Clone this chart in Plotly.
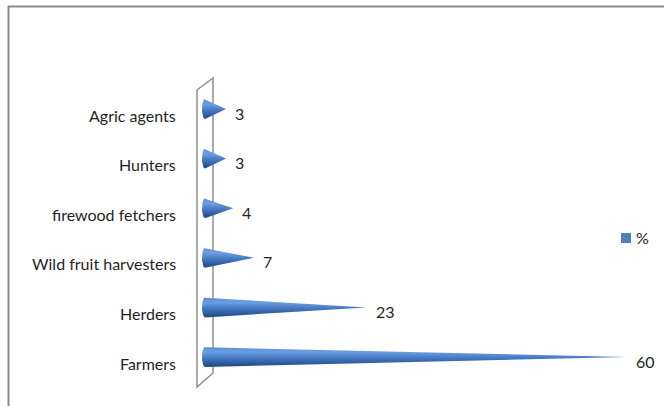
import numpy as np
import plotly.graph_objects as go

# Occupation groups (bottom to top) and their share in percent
categories = ["Farmers", "Herders", "Wild fruit harvesters",
              "firewood fetchers", "Hunters", "Agric agents"]
values = [60, 23, 7, 4, 3, 3]
series_name = "%"

W, H = 664, 406
# axis scale: pixels per x unit / y unit and where the origin sits
PX_X, X0 = 7.03, 205.0
PX_Y, Y0 = 49.6, 357.0

CONE_HALF = 10.0 / PX_Y     # half thickness of a cone (y units)
BASE_RX = 3.0 / PX_X        # horizontal radius of the elliptical base

FONT = "Lato"
FONT_SIZE = 16
TEXT_COLOR = "#1f1f1f"

cone_scale = [[0.0, "#21467d"], [0.2, "#2f5c9f"], [0.5, "#4a7ec6"],
              [0.75, "#6c9de1"], [0.9, "#6595dc"], [1.0, "#5282c8"]]

fig = go.Figure()

for i, (cat, v) in enumerate(zip(categories, values)):
    t = np.linspace(0, np.pi, 25)
    ex = -BASE_RX * np.sin(t)
    ey = i + CONE_HALF * np.cos(t)
    xs = np.concatenate([[v], ex, [v]])
    ys = np.concatenate([[i], ey, [i]])
    fig.add_trace(go.Scatter(
        x=xs, y=ys, mode="lines", fill="toself",
        line=dict(width=0, color="rgba(0,0,0,0)"),
        fillgradient=dict(type="vertical", colorscale=cone_scale),
        name=cat, showlegend=False, hoverinfo="skip",
    ))
    # value label at the tip
    fig.add_annotation(x=v, y=i, xref="x", yref="y", text=str(v),
                       showarrow=False, xanchor="left", yanchor="middle",
                       xshift=7, yshift=-4,
                       font=dict(family=FONT, size=FONT_SIZE, color=TEXT_COLOR))
    # category label on the left of the wall
    fig.add_annotation(x=178 / W, y=i, xref="paper", yref="y", text=cat,
                       showarrow=False, xanchor="right", yanchor="middle",
                       yshift=-6,
                       font=dict(family=FONT, size=FONT_SIZE, color=TEXT_COLOR))

shapes = []
# 3-D side wall of the category axis
fx, bx = (197 - X0) / PX_X, (213 - X0) / PX_X
shapes.append(dict(
    type="path", xref="x", yref="y", layer="below",
    path=(f"M {fx},{(Y0-387)/PX_Y} L {fx},{(Y0-90)/PX_Y} "
          f"L {bx},{(Y0-78)/PX_Y} L {bx},{(Y0-373)/PX_Y} Z"),
    line=dict(color="#8f8f8f", width=1.5), fillcolor="rgba(0,0,0,0)",
))
# chart border (top and left edges)
shapes.append(dict(type="line", xref="paper", yref="paper",
                   x0=8 / W, x1=1, y0=1 - 6.5 / H, y1=1 - 6.5 / H,
                   line=dict(color="#898989", width=2)))
shapes.append(dict(type="line", xref="paper", yref="paper",
                   x0=8.5 / W, x1=8.5 / W, y0=1 - 6 / H, y1=0,
                   line=dict(color="#898989", width=2)))
# legend key
shapes.append(dict(type="rect", xref="paper", yref="paper",
                   x0=621 / W, x1=631 / W, y0=1 - 243 / H, y1=1 - 233 / H,
                   fillcolor="#4f81bd", line=dict(width=0)))
fig.add_annotation(x=634 / W, y=1 - 238 / H, xref="paper", yref="paper",
                   text=series_name, showarrow=False, xanchor="left",
                   yanchor="middle",
                   font=dict(family=FONT, size=FONT_SIZE, color=TEXT_COLOR))

fig.update_layout(
    width=W, height=H, autosize=False,
    margin=dict(l=0, r=0, t=0, b=0),
    paper_bgcolor="white", plot_bgcolor="white",
    shapes=shapes, showlegend=False,
    xaxis=dict(range=[-X0 / PX_X, (W - X0) / PX_X], visible=False,
               fixedrange=True),
    yaxis=dict(range=[(Y0 - H) / PX_Y, Y0 / PX_Y], visible=False,
               fixedrange=True),
)

fig.write_html("out.html", config={"displayModeBar": False})
